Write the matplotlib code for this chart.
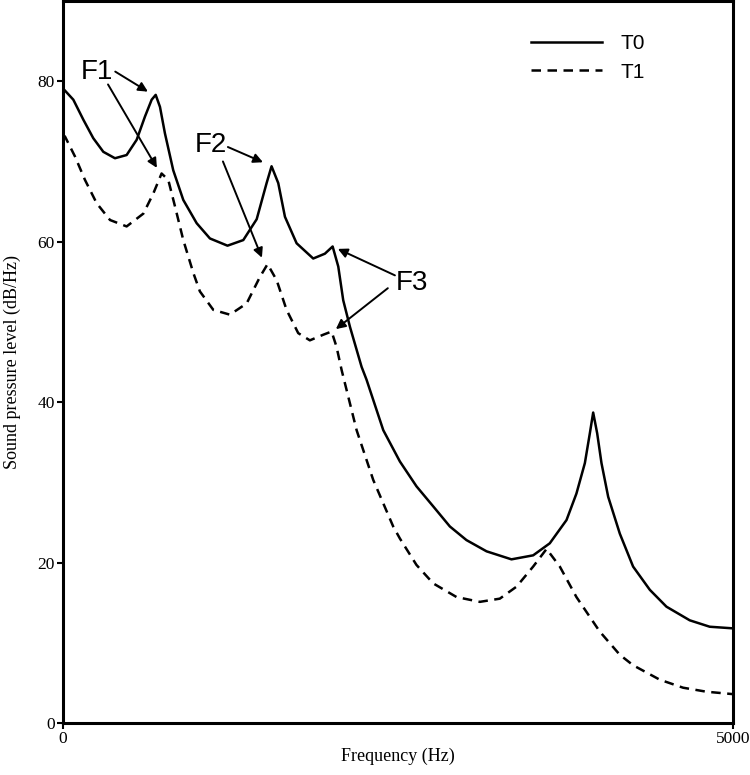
"""Vocal tract transfer function for two configurations (T0, T1) with formants marked."""
import matplotlib
matplotlib.use("Agg")
import matplotlib.pyplot as plt

# values
freq_t0 = [0, 77, 152, 226, 301, 388, 475, 550, 612, 662, 692, 724, 761, 823, 898,
           998, 1097, 1228, 1346, 1446, 1520, 1557, 1607, 1657, 1744, 1868, 1955,
           2013, 2055, 2092, 2142, 2229, 2266, 2391, 2515, 2639, 2764, 2888, 3012,
           3162, 3348, 3510, 3634, 3759, 3833, 3896, 3933, 3958, 3988, 4020, 4070,
           4157, 4256, 4381, 4505, 4679, 4828, 5000]
db_t0 = [79.1, 77.7, 75.2, 72.9, 71.2, 70.4, 70.8, 72.7, 75.6, 77.7, 78.3, 76.8,
         73.5, 68.9, 65.2, 62.3, 60.4, 59.5, 60.2, 62.8, 67.3, 69.4, 67.3, 63.1,
         59.8, 57.9, 58.5, 59.4, 56.9, 52.7, 49.4, 44.4, 42.8, 36.5, 32.6, 29.5,
         27.0, 24.5, 22.8, 21.4, 20.4, 20.9, 22.4, 25.3, 28.6, 32.4, 36.1, 38.7,
         36.1, 32.4, 28.2, 23.6, 19.5, 16.6, 14.5, 12.8, 12.0, 11.8]

freq_t1 = [0, 15, 90, 164, 251, 351, 475, 600, 674, 736, 786, 836, 898, 973, 1022,
           1122, 1246, 1371, 1470, 1527, 1595, 1669, 1756, 1843, 1943, 2005, 2042,
           2080, 2192, 2316, 2465, 2515, 2639, 2764, 2938, 3112, 3261, 3386, 3510,
           3610, 3709, 3833, 4007, 4157, 4256, 4455, 4629, 4803, 5000]
db_t1 = [73.3, 73.1, 70.6, 67.7, 64.8, 62.7, 61.9, 63.5, 66.0, 68.5, 67.7, 64.4,
         60.2, 56.1, 53.8, 51.5, 50.9, 52.3, 55.6, 57.2, 55.2, 51.5, 48.6, 47.7,
         48.4, 48.8, 46.9, 44.0, 36.5, 30.3, 24.5, 23.0, 19.7, 17.4, 15.7, 15.1,
         15.5, 17.0, 19.5, 21.7, 19.5, 15.7, 11.4, 8.5, 7.2, 5.4, 4.4, 3.9, 3.6]

y_ticks = [0, 20, 40, 60, 80]
x_ticks = [0, 5000]

SERIF = ["Liberation Serif", "DejaVu Serif"]
SANS = ["Liberation Sans", "DejaVu Sans"]


def arrow(ax, start, end):
    ax.annotate("", xy=end, xytext=start,
                arrowprops=dict(arrowstyle="-|>", color="black", lw=1.4,
                                mutation_scale=14, shrinkA=0, shrinkB=0))


def main() -> None:
    fig = plt.figure(figsize=(7.5, 7.75), dpi=100)
    ax = fig.add_axes([0.084, 0.0671, 0.893, 0.9316])

    ax.plot(freq_t0, db_t0, color="black", lw=1.8, label="T0")
    ax.plot(freq_t1, db_t1, color="black", lw=1.8, dashes=(3.8, 2.6), label="T1")

    ax.set_xlim(0, 5000)
    ax.set_ylim(0, 90)
    ax.set_xticks(x_ticks)
    ax.set_yticks(y_ticks)
    for lab in ax.get_xticklabels() + ax.get_yticklabels():
        lab.set_family(SERIF)
        lab.set_fontsize(12.5)
    ax.tick_params(direction="out", length=4, width=1.5, pad=2)
    for sp in ax.spines.values():
        sp.set_linewidth(2.2)

    ax.set_xlabel("Frequency (Hz)", family=SERIF, fontsize=13, labelpad=0)
    ax.set_ylabel("Sound pressure level (dB/Hz)", family=SERIF, fontsize=13, labelpad=12)

    ax.legend(loc="upper left", bbox_to_anchor=(0.699, 0.954), frameon=False,
              borderaxespad=0, borderpad=0, handlelength=3.4, handletextpad=0.9,
              labelspacing=0.45, prop={"family": SANS, "size": 15})

    # formant labels
    txt = dict(family=SANS, fontsize=20, ha="center", va="center")
    ax.text(257, 81.2, "F1", **txt)
    arrow(ax, (390, 81.2), (634, 78.7))
    arrow(ax, (336, 79.6), (701, 69.2))

    ax.text(1104, 72.1, "F2", **txt)
    arrow(ax, (1231, 71.8), (1493, 69.9))
    arrow(ax, (1194, 70.0), (1485, 58.0))

    ax.text(2604, 54.8, "F3", **txt)
    arrow(ax, (2478, 55.8), (2052, 59.1))
    arrow(ax, (2425, 54.2), (2037, 49.1))

    fig.savefig("out.png", dpi=100)


if __name__ == "__main__":
    main()
